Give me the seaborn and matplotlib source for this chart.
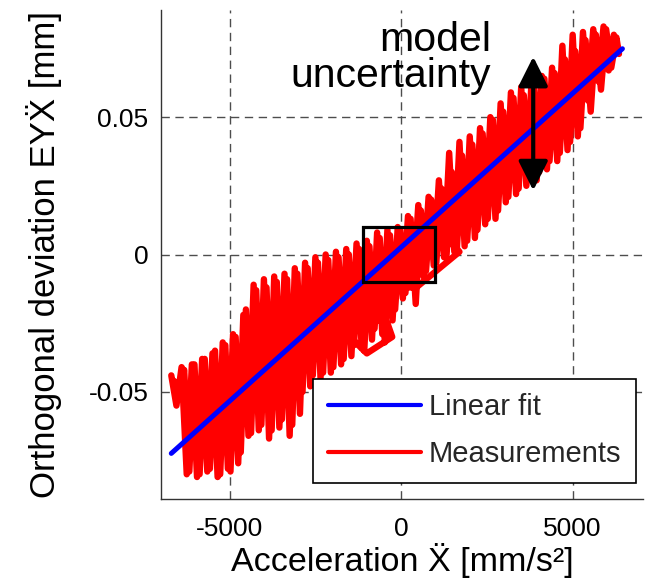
import numpy as np
import pandas as pd
import matplotlib
matplotlib.use("Agg")
import matplotlib.pyplot as plt
import seaborn as sns
from matplotlib.patches import Rectangle

# --------------------------------------------------
# Values
# --------------------------------------------------
fit_x = [-6700, 6450]
fit_y = [-0.0724, 0.0749]

# measured trace (x: acceleration [mm/s^2], y: deviation [mm])
meas_x = [
    # forward sweep
    -6700, -6550, -6400, -6250, -6100, -5950, -5800, -5650, -5500, -5350,
    -5200, -5050, -4900, -4750, -4600, -4450, -4300, -4150, -4000, -3850,
    -3700, -3550, -3400, -3250, -3100, -2950, -2800, -2650, -2500, -2350,
    -2200, -2050, -1900, -1750, -1600, -1450, -1300, -1150, -1000, -850,
    -700, -550, -400, -250, -100, 50, 200, 350, 500, 650,
    800, 950, 1100, 1250, 1400, 1550, 1700, 1850, 2000, 2150,
    2300, 2450, 2600, 2750, 2900, 3050, 3200, 3350, 3500, 3650,
    3800, 3950, 4100, 4250, 4400, 4550, 4700, 4850, 5000, 5150,
    5300, 5450, 5600, 5750, 5900, 6050, 6200, 6350,
    # return sweep
    6275, 6125, 5975, 5825, 5675, 5525, 5375, 5225, 5075, 4925,
    4775, 4625, 4475, 4325, 4175, 4025, 3875, 3725, 3575, 3425,
    3275, 3125, 2975, 2825, 2675, 2525, 2375, 2225, 2075, 1925,
    1775, 1625, 1475, 1325, 1175, 1025, 875, 725, 575, 425,
    275, 125, -25, -175, -325, -475, -625, -775, -925, -1075,
    -1225, -1375, -1525, -1675, -1825, -1975, -2125, -2275, -2425, -2575,
    -2725, -2875, -3025, -3175, -3325, -3475, -3625, -3775, -3925, -4075,
    -4225, -4375, -4525, -4675, -4825, -4975, -5125, -5275, -5425, -5575,
    -5725, -5875, -6025, -6175, -6325, -6475, -6625,
    # slow drift back through the middle
    -6000, -5500, -4800, -4200, -3500, -2700, -1900, -1000, -260, -400,
    -1100, -600, 440, 1700, 1000, 2000, 3000, 4000, 5000, 5900,
]
meas_y = [
    # forward sweep
    -0.044, -0.055, -0.041, -0.080, -0.040, -0.081, -0.038, -0.079, -0.036, -0.081,
    -0.032, -0.078, -0.029, -0.076, -0.022, -0.066, -0.011, -0.064, -0.009, -0.067,
    -0.008, -0.063, -0.007, -0.066, -0.005, -0.058, -0.003, -0.048, -0.001, -0.045,
    0.000, -0.043, 0.001, -0.040, 0.002, -0.037, 0.004, -0.034, 0.005, -0.031,
    0.008, -0.029, 0.009, -0.024, 0.010, -0.016, 0.014, -0.012, 0.018, -0.008,
    0.021, -0.004, 0.027, -0.001, 0.037, 0.001, 0.041, 0.003, 0.043, 0.006,
    0.046, 0.011, 0.050, 0.013, 0.055, 0.019, 0.059, 0.022, 0.061, 0.025,
    0.063, 0.027, 0.065, 0.031, 0.068, 0.034, 0.076, 0.038, 0.080, 0.043,
    0.081, 0.056, 0.082, 0.063, 0.083, 0.067, 0.080, 0.073,
    # return sweep
    0.079, 0.068, 0.082, 0.060, 0.080, 0.052, 0.078, 0.046, 0.074, 0.041,
    0.071, 0.037, 0.066, 0.034, 0.064, 0.030, 0.062, 0.028, 0.058, 0.024,
    0.057, 0.021, 0.052, 0.016, 0.049, 0.013, 0.044, 0.009, 0.040, 0.005,
    0.036, 0.002, 0.030, 0.000, 0.024, -0.003, 0.020, -0.006, 0.016, -0.018,
    0.013, -0.014, 0.009, -0.020, 0.007, -0.032, 0.006, -0.027, 0.003, -0.035,
    0.002, -0.033, 0.000, -0.038, -0.001, -0.041, -0.002, -0.043, -0.003, -0.044,
    -0.005, -0.050, -0.007, -0.062, -0.009, -0.060, -0.010, -0.064, -0.012, -0.062,
    -0.013, -0.065, -0.020, -0.072, -0.030, -0.079, -0.033, -0.080, -0.035, -0.078,
    -0.038, -0.080, -0.040, -0.079, -0.042, -0.050, -0.046,
    # slow drift back through the middle
    -0.055, -0.060, -0.052, -0.040, -0.045, -0.030, -0.025, -0.036, -0.030, -0.025,
    -0.022, -0.012, -0.012, 0.001, 0.010, 0.020, 0.040, 0.046, 0.060, 0.072,
]

box_x = [-1100, 1000]
box_y = [-0.010, 0.010]

arrow_x = 3850
arrow_y = [0.0233, 0.072]

x_ticks = [-5000, 0, 5000]
y_ticks = [-0.05, 0, 0.05]
y_tick_labels = ["-0.05", "0", "0.05"]
x_lim = [-7000, 7050]
y_lim = [-0.089, 0.089]

# --------------------------------------------------
# Style
# --------------------------------------------------
sns.set_theme(style="white")
plt.rcParams["font.family"] = ["Liberation Sans", "DejaVu Sans"]
plt.rcParams["axes.unicode_minus"] = False

fig = plt.figure(figsize=(6.45, 5.88), dpi=100)
ax = fig.add_axes([161 / 645, 89 / 588, 482 / 645, 489 / 588])

meas_df = pd.DataFrame({"x": meas_x, "y": meas_y})
fit_df = pd.DataFrame({"x": fit_x, "y": fit_y})

sns.lineplot(data=meas_df, x="x", y="y", sort=False, estimator=None,
             color="#ff0000", lw=4.6, ax=ax, solid_joinstyle="round",
             solid_capstyle="round")
sns.lineplot(data=fit_df, x="x", y="y", sort=False, estimator=None,
             color="#0000ff", lw=3.6, ax=ax, solid_capstyle="round")
meas_line, fit_line = ax.lines[0], ax.lines[1]

ax.add_patch(Rectangle((box_x[0], box_y[0]), box_x[1] - box_x[0],
                       box_y[1] - box_y[0], fill=False, ec="black", lw=2.3,
                       zorder=5))

ax.annotate("", xy=(arrow_x, arrow_y[1]), xytext=(arrow_x, arrow_y[0]),
            arrowprops=dict(arrowstyle="<|-|>,head_length=0.9,head_width=0.45",
                            mutation_scale=20, color="black", lw=3,
                            shrinkA=0, shrinkB=0), zorder=6)

ax.text(2620, 0.061, "model\nuncertainty", ha="right", va="baseline",
        multialignment="right", fontsize=29.5, linespacing=0.92, color="black")

# axes
ax.set_xlim(x_lim)
ax.set_ylim(y_lim)
ax.set_xticks(x_ticks)
ax.set_xticklabels([str(v) for v in x_ticks])
ax.set_yticks(y_ticks)
ax.set_yticklabels(y_tick_labels)
ax.tick_params(direction="in", length=4, width=1, labelsize=19,
               colors="black", pad=9)
ax.tick_params(axis="x", pad=13)
for side in ["top", "right"]:
    ax.spines[side].set_visible(False)
for side in ["left", "bottom"]:
    ax.spines[side].set_color("#333333")
    ax.spines[side].set_linewidth(1)

ax.grid(True, linestyle=(0, (6, 4)), color="0.3", lw=1)
ax.set_axisbelow(True)

ax.set_xlabel("Acceleration Ẍ [mm/s²]", fontsize=24.5, color="black")
ax.set_ylabel("Orthogonal deviation EYẌ [mm]", fontsize=25, color="black")
ax.xaxis.set_label_coords(0.5, -0.091)
ax.yaxis.set_label_coords(-0.206, 0.5)

leg = ax.legend(handles=[fit_line, meas_line],
                labels=["Linear fit", "Measurements"],
                loc="lower right", bbox_to_anchor=(0.985, 0.033),
                borderaxespad=0, fontsize=21, frameon=True, fancybox=False,
                framealpha=1, edgecolor="black", handlelength=3.2,
                handletextpad=0.25, labelspacing=0.65, borderpad=0.5)
leg.get_frame().set_linewidth(1.2)
for h in leg.get_lines():
    h.set_linewidth(3)

fig.savefig("out.png", dpi=100)
plt.close(fig)
